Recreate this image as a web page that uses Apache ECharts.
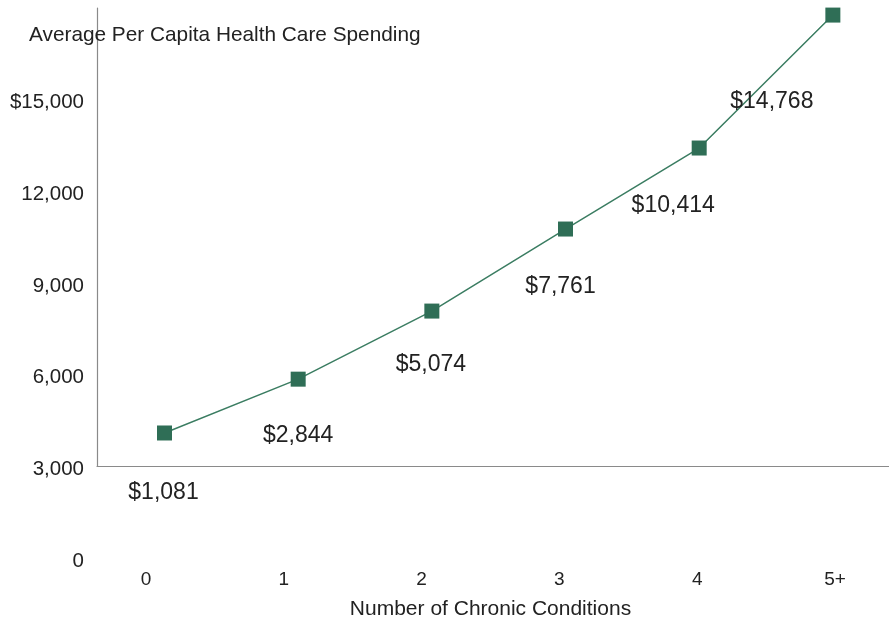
<!DOCTYPE html>
<html>
<head>
<meta charset="utf-8">
<script src="https://cdn.jsdelivr.net/npm/echarts@6/dist/echarts.min.js"></script>
<style>html,body{margin:0;padding:0;background:#fff}#c{width:889px;height:620px}</style>
</head>
<body>
<div id="c"></div>
<script>
const categories = ['0', '1', '2', '3', '4', '5+'];
const spending = [1081, 2844, 5074, 7761, 10414, 14768];
const valueLabels = ['$1,081', '$2,844', '$5,074', '$7,761', '$10,414', '$14,768'];
const yTickLabels = ['0', '3,000', '6,000', '9,000', '12,000', '$15,000', ''];

// layout only (label displacement from each marker, in px)
const labelOffsets = [[-1, 60], [0, 56], [-1, 54], [-5, 58], [-26, 58], [-61, 87]];

const FONT = 'Liberation Sans';
const TXT = '#222';
const chart = echarts.init(document.getElementById('c'));
chart.setOption({
  animation: false,
  textStyle: { fontFamily: FONT },
  title: {
    text: 'Average Per Capita Health Care Spending',
    left: 24, top: 20,
    textStyle: { fontFamily: FONT, fontSize: 20.8, fontWeight: 'normal', color: TXT }
  },
  grid: [
    { left: 97, right: 0, top: 8, bottom: 154, outerBoundsMode: 'none', containLabel: false },
    { left: 146, right: 54, top: 11, bottom: 59, outerBoundsMode: 'none', containLabel: false }
  ],
  xAxis: [
    {
      gridIndex: 0, type: 'value', min: -0.505, max: 5.42,
      axisLine: { show: true, onZero: false, lineStyle: { color: '#8a8a8a', width: 1.2 } },
      axisTick: { show: false }, axisLabel: { show: false }, splitLine: { show: false }
    },
    {
      gridIndex: 1, type: 'category', boundaryGap: false, data: categories,
      axisLine: { show: false }, axisTick: { show: false }, splitLine: { show: false },
      axisLabel: { fontSize: 19, color: TXT, margin: 9 },
      name: 'Number of Chronic Conditions', nameLocation: 'middle', nameGap: 38,
      nameTextStyle: { fontSize: 21, color: TXT }
    }
  ],
  yAxis: [
    {
      gridIndex: 0, type: 'value', min: 0, max: 15000,
      axisLine: { show: true, onZero: false, lineStyle: { color: '#8a8a8a', width: 1.2 } },
      axisTick: { show: false }, axisLabel: { show: false }, splitLine: { show: false }
    },
    {
      gridIndex: 1, type: 'value', min: 0, max: 18000, interval: 3000, offset: 49,
      axisLine: { show: false }, axisTick: { show: false }, splitLine: { show: false },
      axisLabel: {
        fontSize: 20.5, color: TXT, margin: 13,
        formatter: v => yTickLabels[Math.round(v / 3000)]
      }
    }
  ],
  series: [{
    type: 'line', xAxisIndex: 0, yAxisIndex: 0,
    symbol: 'rect', symbolSize: 15,
    lineStyle: { color: '#3b7d62', width: 1.5 },
    itemStyle: { color: '#2f6e56' },
    data: spending.map((v, i) => ({
      value: [i, v],
      label: {
        show: true, position: 'inside', offset: labelOffsets[i],
        formatter: valueLabels[i], fontSize: 23, color: TXT, fontFamily: FONT
      }
    }))
  }]
});
</script>
</body>
</html>
